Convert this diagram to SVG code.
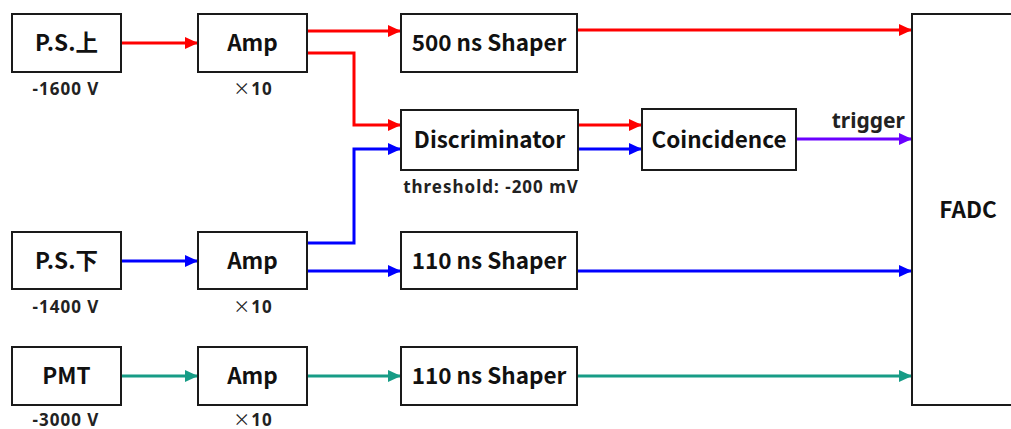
<svg xmlns="http://www.w3.org/2000/svg" width="1011" height="429" viewBox="0 0 1011 429">
<style>
.box{fill:#fff;stroke:#1a1a1a;stroke-width:2}
.t{font-family:"Noto Sans CJK JP","Noto Sans",sans-serif;font-weight:bold;font-size:22.5px;fill:#111;text-anchor:middle}
.l{font-family:"Noto Sans","Noto Sans CJK JP",sans-serif;font-weight:bold;font-size:17px;letter-spacing:1px;fill:#222;text-anchor:middle}
.x{font-family:"Noto Sans CJK JP",sans-serif;font-weight:normal}
.c{fill:none;stroke-width:3}
.r{stroke:#ff0000}.b{stroke:#0000ff}.g{stroke:#179c86}.p{stroke:#6a00ff}
</style>
<defs>
<marker id="mr" markerUnits="userSpaceOnUse" markerWidth="14" markerHeight="12" refX="13" refY="6" orient="auto"><path d="M0,0 L13,6 L0,12 Z" fill="#ff0000"/></marker>
<marker id="mb" markerUnits="userSpaceOnUse" markerWidth="14" markerHeight="12" refX="13" refY="6" orient="auto"><path d="M0,0 L13,6 L0,12 Z" fill="#0000ff"/></marker>
<marker id="mg" markerUnits="userSpaceOnUse" markerWidth="14" markerHeight="12" refX="13" refY="6" orient="auto"><path d="M0,0 L13,6 L0,12 Z" fill="#179c86"/></marker>
<marker id="mp" markerUnits="userSpaceOnUse" markerWidth="14" markerHeight="12" refX="13" refY="6" orient="auto"><path d="M0,0 L13,6 L0,12 Z" fill="#6a00ff"/></marker>
</defs>
<rect width="1011" height="429" fill="#fff"/>
<g id="connectors">
<path class="c r" d="M121 43 H198" marker-end="url(#mr)"/>
<path class="c r" d="M307 31 H401" marker-end="url(#mr)"/>
<path class="c r" d="M307 53 H354 V125 H401" marker-end="url(#mr)"/>
<path class="c b" d="M121 261 H198" marker-end="url(#mb)"/>
<path class="c b" d="M307 243 H354 V149 H401" marker-end="url(#mb)"/>
<path class="c b" d="M307 271 H401" marker-end="url(#mb)"/>
<path class="c g" d="M121 376 H198" marker-end="url(#mg)"/>
<path class="c g" d="M307 376 H401" marker-end="url(#mg)"/>
<path class="c r" d="M577 30 H912" marker-end="url(#mr)"/>
<path class="c r" d="M578 125 H642" marker-end="url(#mr)"/>
<path class="c b" d="M578 149 H642" marker-end="url(#mb)"/>
<path class="c p" d="M796 139 H912" marker-end="url(#mp)"/>
<path class="c b" d="M577 271 H912" marker-end="url(#mb)"/>
<path class="c g" d="M577 376 H912" marker-end="url(#mg)"/>
<text class="l" x="905" y="128" style="text-anchor:end;font-size:21px;letter-spacing:0">trigger</text>
</g>
<g id="ps-up"><rect class="box" x="12" y="14" width="109" height="58"/><text class="t" x="66.5" y="51">P.S.上</text><text class="l" x="66" y="95">-1600 V</text></g>
<g id="amp1"><rect class="box" x="198" y="14" width="109" height="58"/><text class="t" x="252.5" y="51">Amp</text><text class="l" x="253" y="95"><tspan class="x">×</tspan>10</text></g>
<g id="shaper500"><rect class="box" x="401" y="14" width="176" height="58"/><text class="t" x="489" y="51">500 ns Shaper</text></g>
<g id="disc"><rect class="box" x="401" y="110" width="177" height="60"/><text class="t" x="489.5" y="148">Discriminator</text><text class="l" x="491" y="193">threshold: -200 mV</text></g>
<g id="coin"><rect class="box" x="642" y="109" width="154" height="61"/><text class="t" x="719" y="147.5">Coincidence</text></g>
<g id="ps-down"><rect class="box" x="12" y="232" width="109" height="57"/><text class="t" x="66.5" y="269">P.S.下</text><text class="l" x="66" y="313">-1400 V</text></g>
<g id="amp2"><rect class="box" x="198" y="232" width="109" height="57"/><text class="t" x="252.5" y="269">Amp</text><text class="l" x="253" y="313"><tspan class="x">×</tspan>10</text></g>
<g id="shaper110a"><rect class="box" x="401" y="232" width="176" height="57"/><text class="t" x="489" y="269">110 ns Shaper</text></g>
<g id="pmt"><rect class="box" x="12" y="347" width="109" height="58"/><text class="t" x="66.5" y="384">PMT</text><text class="l" x="66" y="426">-3000 V</text></g>
<g id="amp3"><rect class="box" x="198" y="347" width="109" height="58"/><text class="t" x="252.5" y="384">Amp</text><text class="l" x="253" y="426"><tspan class="x">×</tspan>10</text></g>
<g id="shaper110b"><rect class="box" x="401" y="347" width="176" height="58"/><text class="t" x="489" y="384">110 ns Shaper</text></g>
<g id="fadc"><rect class="box" x="912" y="14" width="112" height="391"/><text class="t" x="968" y="218">FADC</text></g>
</svg>
